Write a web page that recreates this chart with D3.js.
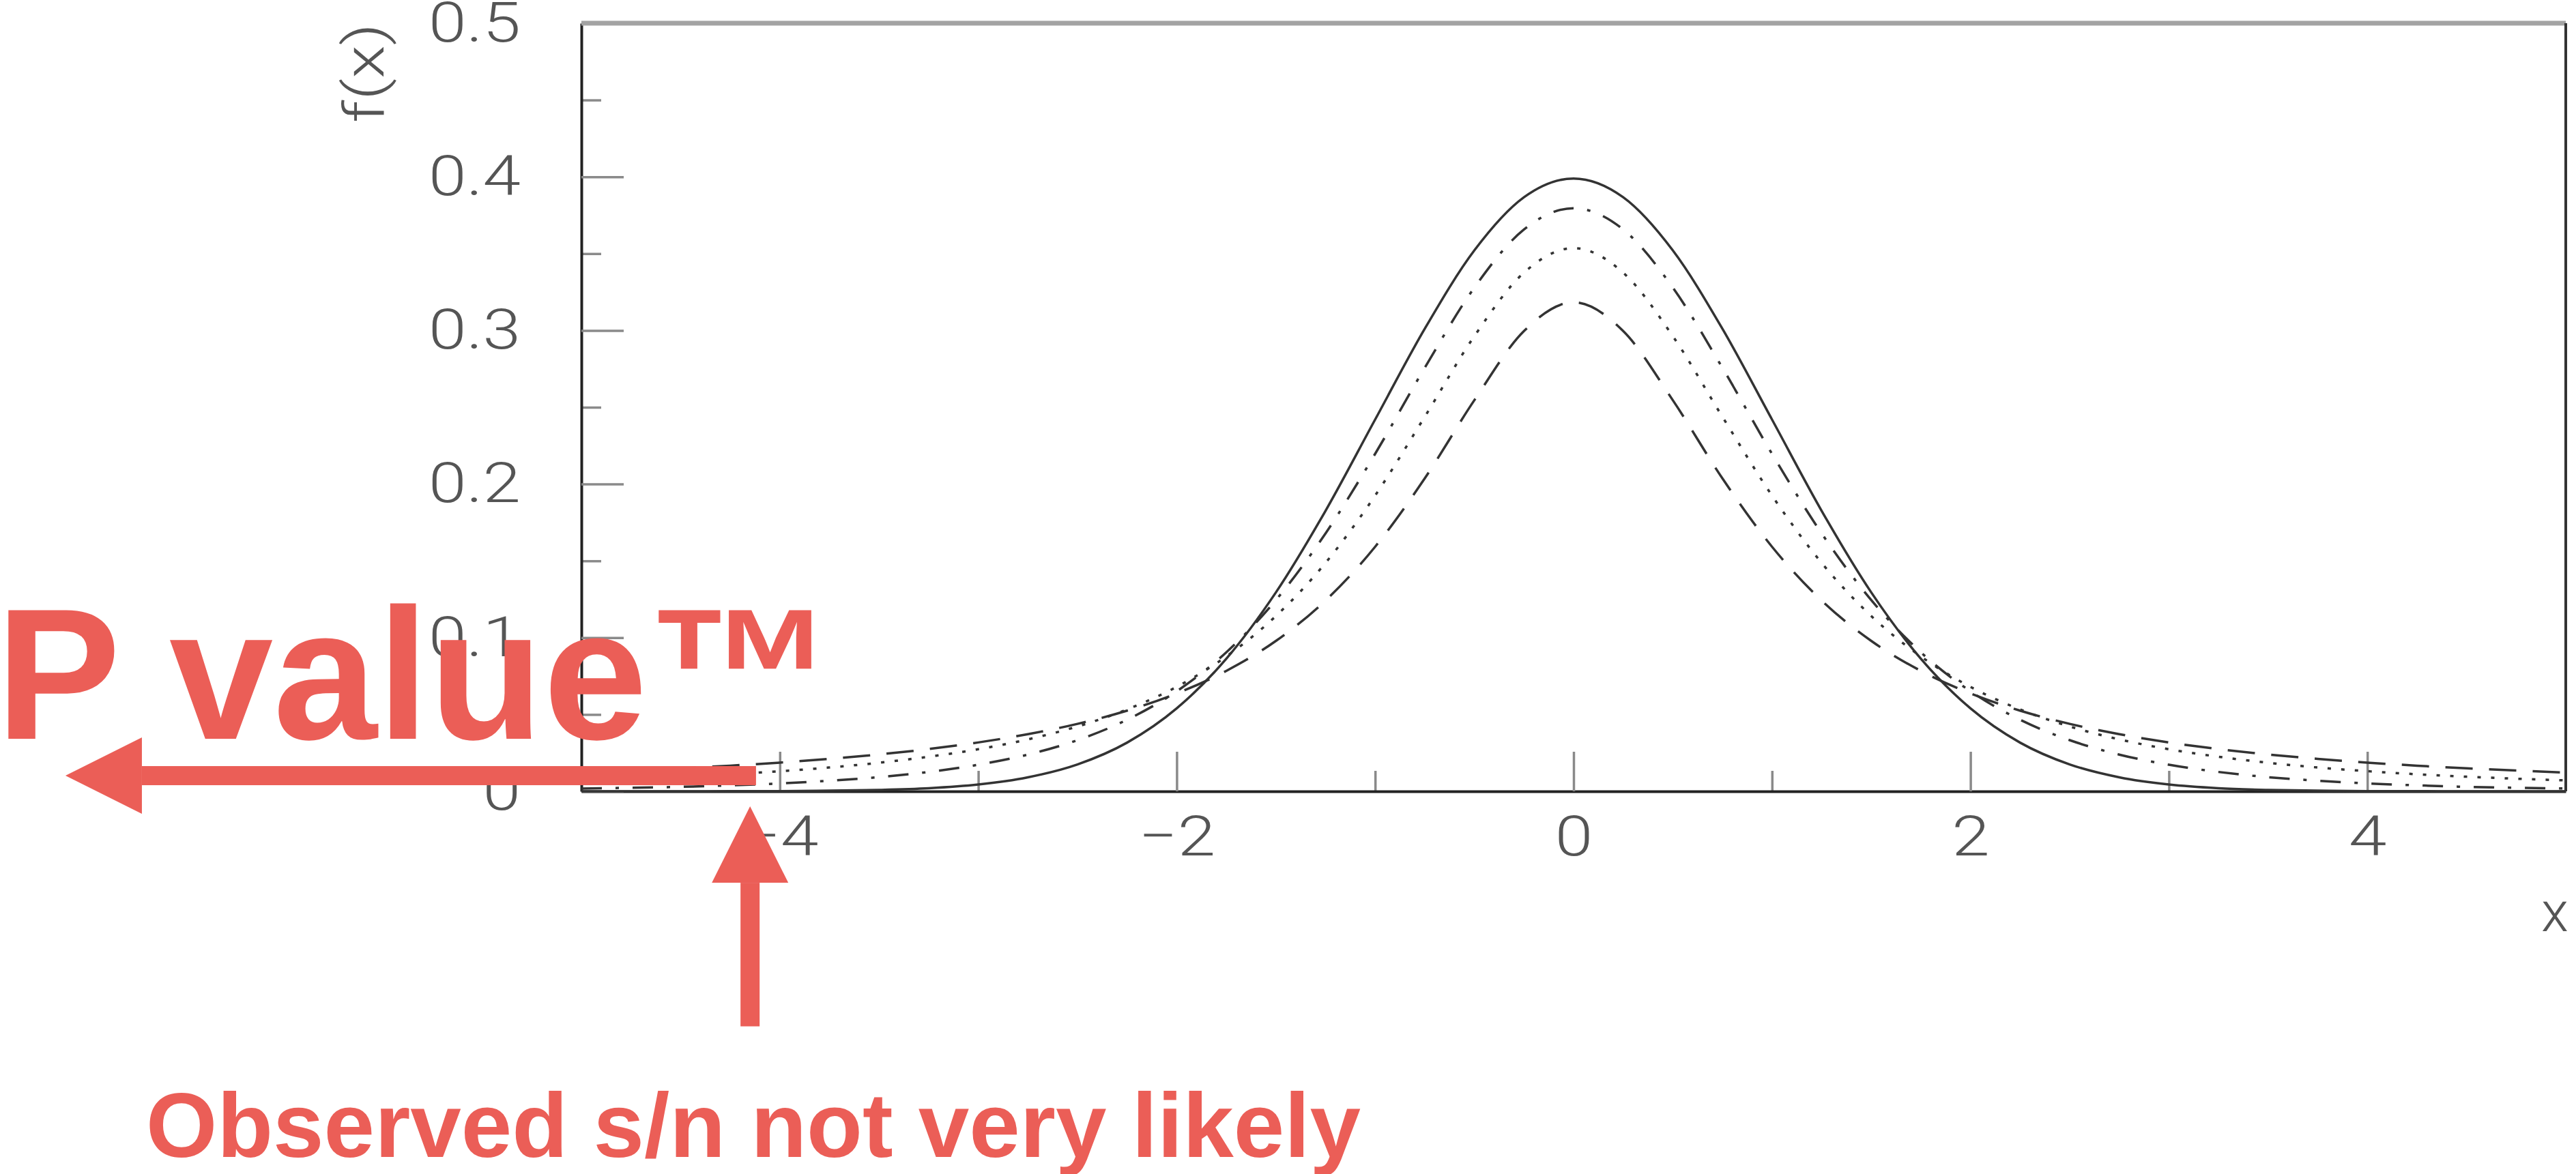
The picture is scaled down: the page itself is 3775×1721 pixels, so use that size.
<!DOCTYPE html>
<html>
<head>
<meta charset="utf-8">
<script src="https://cdn.jsdelivr.net/npm/d3@7"></script>
<style>
  body { margin: 0; background: #fff; }
  .tick text { font-family: Roboto, "DejaVu Sans", sans-serif; font-weight: 300; fill: #555; }
  .lbl { font-family: Roboto, "DejaVu Sans", sans-serif; font-weight: 300; fill: #555; }
  .note { font-family: "Liberation Sans", Arial, sans-serif; font-weight: bold; fill: #eb5e57; }
</style>
</head>
<body>
<div id="chart"></div>
<script>
const xValues = [-5, -4.75, -4.5, -4.25, -4, -3.75, -3.5, -3.25, -3, -2.75, -2.5, -2.25, -2, -1.75, -1.5, -1.25, -1, -0.75, -0.5, -0.25,
  0, 0.25, 0.5, 0.75, 1, 1.25, 1.5, 1.75, 2, 2.25, 2.5, 2.75, 3, 3.25, 3.5, 3.75, 4, 4.25, 4.5, 4.75, 5];

// solid curve (n = infinity)
const solidVals = [0, 0, 0, .0001, .0001, .0004, .0009, .0020, .0044, .0091, .0175, .0317, .0540, .0863, .1295, .1826, .2420, .3011, .3521, .3867,
  .3989, .3867, .3521, .3011, .2420, .1826, .1295, .0863, .0540, .0317, .0175, .0091, .0044, .0020, .0009, .0004, .0001, .0001, 0, 0, 0];

// dash-dot curve (n = 5)
const dashDotVals = [.0018, .0023, .0029, .0039, .0051, .0069, .0092, .0126, .0173, .0239, .0333, .0466, .0651, .0905, .1245, .1679, .2197, .2757, .3279, .3657,
  .3796, .3657, .3279, .2757, .2197, .1679, .1245, .0905, .0651, .0466, .0333, .0239, .0173, .0126, .0092, .0069, .0051, .0039, .0029, .0023, .0018];

// dotted curve (n = 2)
const dottedVals = [.0071, .0082, .0095, .0111, .0131, .0155, .0186, .0225, .0274, .0338, .0422, .0533, .0680, .0878, .1141, .1487, .1925, .2438, .2963, .3376,
  .3536, .3376, .2963, .2438, .1925, .1487, .1141, .0878, .0680, .0533, .0422, .0338, .0274, .0225, .0186, .0155, .0131, .0111, .0095, .0082, .0071];

// dashed curve (n = 1)
const dashedVals = [.0122, .0135, .0150, .0167, .0187, .0211, .0240, .0275, .0318, .0372, .0439, .0525, .0637, .0784, .0979, .1242, .1592, .2037, .2546, .2996,
  .3183, .2996, .2546, .2037, .1592, .1242, .0979, .0784, .0637, .0525, .0439, .0372, .0318, .0275, .0240, .0211, .0187, .0167, .0150, .0135, .0122];

const xMajor = [-4, -2, 0, 2, 4];
const xMinor = [-3, -1, 1, 3];
const yMajor = [0, 0.1, 0.2, 0.3, 0.4, 0.5];
const yMinor = [0.05, 0.15, 0.25, 0.35, 0.45];

// annotation anchors, in data units
const observed = -4.15;
const pArrow = { from: -4.12, to: -7.6, y: 0.0102 };
const upArrow = { tip: -0.0098, tail: -0.153 };

const W = 3775, H = 1721;
const stretch = 1.22; // tick labels in the scan are wide
const svg = d3.select("#chart").append("svg")
  .attr("width", W).attr("height", H);

let xScale = d3.scaleLinear().domain([-5, 5]).range([852, 3760]);
let yScale = d3.scaleLinear().domain([0, 0.5]).range([1160, 34]);

// x axis
svg.append("g")
  .attr("transform", "translate(0," + yScale(0) + ")")
  .call(d3.axisBottom(xScale).tickValues(xMinor).tickSize(-30).tickSizeOuter(0).tickFormat(""))
  .call(g => g.select(".domain").remove());
let xAx = svg.append("g")
  .attr("transform", "translate(0," + yScale(0) + ")")
  .call(d3.axisBottom(xScale).tickValues(xMajor).tickSize(-58).tickSizeOuter(0).tickPadding(36));
xAx.selectAll(".tick text")
  .attr("font-size", 82)
  .attr("transform", "scale(" + stretch + ",1)");

// y axis
svg.append("g")
  .attr("transform", "translate(" + xScale(-5) + ",0)")
  .call(d3.axisLeft(yScale).tickValues(yMinor).tickSize(-29).tickSizeOuter(0).tickFormat(""))
  .call(g => g.select(".domain").remove());
let yAx = svg.append("g")
  .attr("transform", "translate(" + xScale(-5) + ",0)")
  .call(d3.axisLeft(yScale).tickValues(yMajor).tickSize(-62).tickSizeOuter(0).tickPadding(89)
    .tickFormat(d => d === 0 ? "0" : d3.format(".1f")(d)));
yAx.selectAll(".tick text")
  .attr("font-size", 82)
  .attr("x", 0)
  .attr("transform", "translate(-89,0) scale(" + stretch + ",1)");

svg.selectAll(".tick line").attr("stroke", "#8a8a8a").attr("stroke-width", 3.5);
svg.selectAll(".domain").attr("stroke", "#222").attr("stroke-width", 4);

// frame: top and right
svg.append("line")
  .attr("x1", xScale(-5)).attr("x2", xScale(5))
  .attr("y1", yScale(0.5)).attr("y2", yScale(0.5))
  .attr("stroke", "#a3a3a3").attr("stroke-width", 7);
svg.append("line")
  .attr("x1", xScale(5)).attr("x2", xScale(5))
  .attr("y1", yScale(0.5)).attr("y2", yScale(0))
  .attr("stroke", "#333").attr("stroke-width", 4);

// axis titles
svg.append("text").attr("class", "lbl")
  .attr("transform", "translate(562,107) rotate(-90) scale(" + stretch + ",1)")
  .attr("text-anchor", "middle")
  .attr("font-size", 82)
  .text("f(x)");
svg.append("text").attr("class", "lbl")
  .attr("x", 3724).attr("y", 1365)
  .attr("font-size", 82)
  .text("x");

// curves
const curves = [
  { vals: dashedVals, dash: "40,24" },
  { vals: dottedVals, dash: "5,15" },
  { vals: dashDotVals, dash: "30,20,5,20" },
  { vals: solidVals, dash: null }
];

let line = d3.line()
  .x((d, i) => xScale(xValues[i]))
  .y(d => yScale(d))
  .curve(d3.curveMonotoneX);

svg.append("g")
  .selectAll("path")
  .data(curves)
  .enter()
  .append("path")
    .attr("d", d => line(d.vals))
    .attr("fill", "none")
    .attr("stroke", "#333")
    .attr("stroke-width", 3.5)
    .attr("stroke-dasharray", d => d.dash);

// red annotations
const red = "#eb5e57";
const headLen = 112, headHalf = 56, shaft = 28;

let ay = yScale(pArrow.y);
let ax1 = xScale(pArrow.from), ax2 = xScale(pArrow.to);
svg.append("rect")
  .attr("x", ax2 + headLen).attr("y", ay - shaft / 2)
  .attr("width", ax1 - ax2 - headLen).attr("height", shaft)
  .attr("fill", red);
svg.append("path")
  .attr("d", "M" + ax2 + "," + ay + "L" + (ax2 + headLen) + "," + (ay - headHalf) + "L" + (ax2 + headLen) + "," + (ay + headHalf) + "Z")
  .attr("fill", red);

let ux = xScale(observed);
let uy1 = yScale(upArrow.tip), uy2 = yScale(upArrow.tail);
svg.append("rect")
  .attr("x", ux - shaft / 2).attr("y", uy1 + headLen)
  .attr("width", shaft).attr("height", uy2 - uy1 - headLen)
  .attr("fill", red);
svg.append("path")
  .attr("d", "M" + ux + "," + uy1 + "L" + (ux - headHalf) + "," + (uy1 + headLen) + "L" + (ux + headHalf) + "," + (uy1 + headLen) + "Z")
  .attr("fill", red);

svg.append("text").attr("class", "note")
  .attr("x", -6).attr("y", 1083)
  .attr("font-size", 274)
  .text("P value\u2122");

svg.append("text").attr("class", "note")
  .attr("x", 214).attr("y", 1696)
  .attr("font-size", 134)
  .text("Observed s/n not very likely");
</script>
</body>
</html>
